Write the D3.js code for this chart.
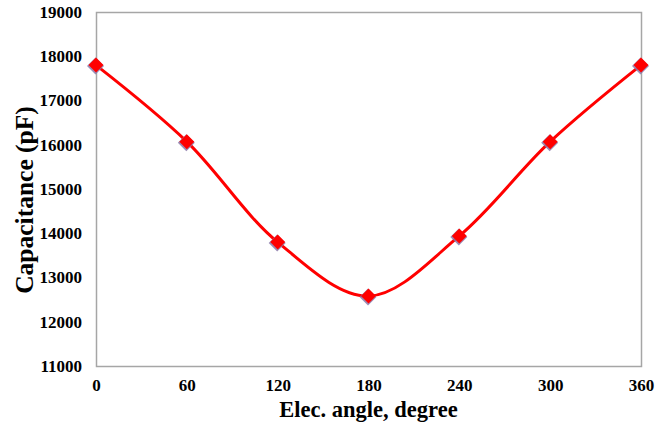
<!DOCTYPE html>
<html>
<head>
<meta charset="utf-8">
<script src="https://cdn.jsdelivr.net/npm/d3@7"></script>
<style>
  body { margin: 0; background: #fff; }
  text { font-family: "Liberation Serif", "Times New Roman", serif; font-weight: bold; }
</style>
</head>
<body>
<div id="chart"></div>
<script>
var width = 671;
var height = 424;

// data
var angles = [0, 60, 120, 180, 240, 300, 360];
var capacitance = [17800, 16070, 13800, 12580, 13940, 16070, 17800];
var xTicks = [0, 60, 120, 180, 240, 300, 360];
var yTicks = [11000, 12000, 13000, 14000, 15000, 16000, 17000, 18000, 19000];

var margin = {top: 12, right: 30, bottom: 58, left: 96};

var svg = d3.select('#chart').append('svg')
    .attr('width', width)
    .attr('height', height);

var x = d3.scaleLinear().domain([0, 360]).range([margin.left, width - margin.right]);
var y = d3.scaleLinear().domain([11000, 19000]).range([height - margin.bottom, margin.top]);

// plot frame
svg.append('rect')
    .attr('x', x(0) + 0.5)
    .attr('y', y(19000) + 0.5)
    .attr('width', x(360) - x(0))
    .attr('height', y(11000) - y(19000))
    .attr('fill', 'none')
    .attr('stroke', '#a6a6a6')
    .attr('stroke-width', 1.5);

function styleTicks(sel) {
    sel.attr('fill', '#000')
        .style('font-size', '17px')
        .style('font-family', '"Liberation Serif", serif')
        .style('font-weight', 'bold');
}

// y axis labels
var yAxis = d3.axisLeft(y).tickValues(yTicks).tickSize(0).tickPadding(14).tickFormat(d3.format('d'));
svg.append('g')
    .attr('transform', 'translate(' + x(0) + ',0)')
    .call(yAxis)
    .call(function(g) { g.select('.domain').remove(); })
    .selectAll('text')
    .call(styleTicks);

// x axis labels
var xAxis = d3.axisBottom(x).tickValues(xTicks).tickSize(0).tickPadding(13);
svg.append('g')
    .attr('transform', 'translate(0,' + y(11000) + ')')
    .call(xAxis)
    .call(function(g) { g.select('.domain').remove(); })
    .selectAll('text')
    .call(styleTicks);

// axis titles
svg.append('text')
    .attr('x', (x(0) + x(360)) / 2)
    .attr('y', 417)
    .attr('text-anchor', 'middle')
    .attr('font-size', 22.5)
    .text('Elec. angle, degree');

svg.append('text')
    .attr('transform', 'translate(33,200) rotate(-90)')
    .attr('text-anchor', 'middle')
    .attr('font-size', 25.5)
    .text('Capacitance (pF)');

var points = angles.map(function(a, i) { return [a, capacitance[i]]; });

// smoothed line
var line = d3.line()
    .x(function(d) { return x(d[0]); })
    .y(function(d) { return y(d[1]); })
    .curve(d3.curveCatmullRom.alpha(0.5));

svg.append('path')
    .datum(points)
    .attr('d', line)
    .attr('fill', 'none')
    .attr('stroke', '#ff0000')
    .attr('stroke-width', 3);

// diamond markers
function diamond(r) {
    return 'M0,' + (-r) + 'L' + r + ',0L0,' + r + 'L' + (-r) + ',0Z';
}

svg.append('g')
    .selectAll('path.shadow')
    .data(points)
    .enter()
    .append('path')
    .attr('class', 'shadow')
    .attr('d', diamond(8.5))
    .attr('transform', function(d) { return 'translate(' + (x(d[0]) - 0.5) + ',' + (y(d[1]) + 1) + ')'; })
    .attr('fill', '#8a78a8')
    .attr('opacity', 0.85);

svg.append('g')
    .selectAll('path.mark')
    .data(points)
    .enter()
    .append('path')
    .attr('class', 'mark')
    .attr('d', diamond(7.5))
    .attr('transform', function(d) { return 'translate(' + x(d[0]) + ',' + y(d[1]) + ')'; })
    .attr('fill', '#ff0000');
</script>
</body>
</html>
